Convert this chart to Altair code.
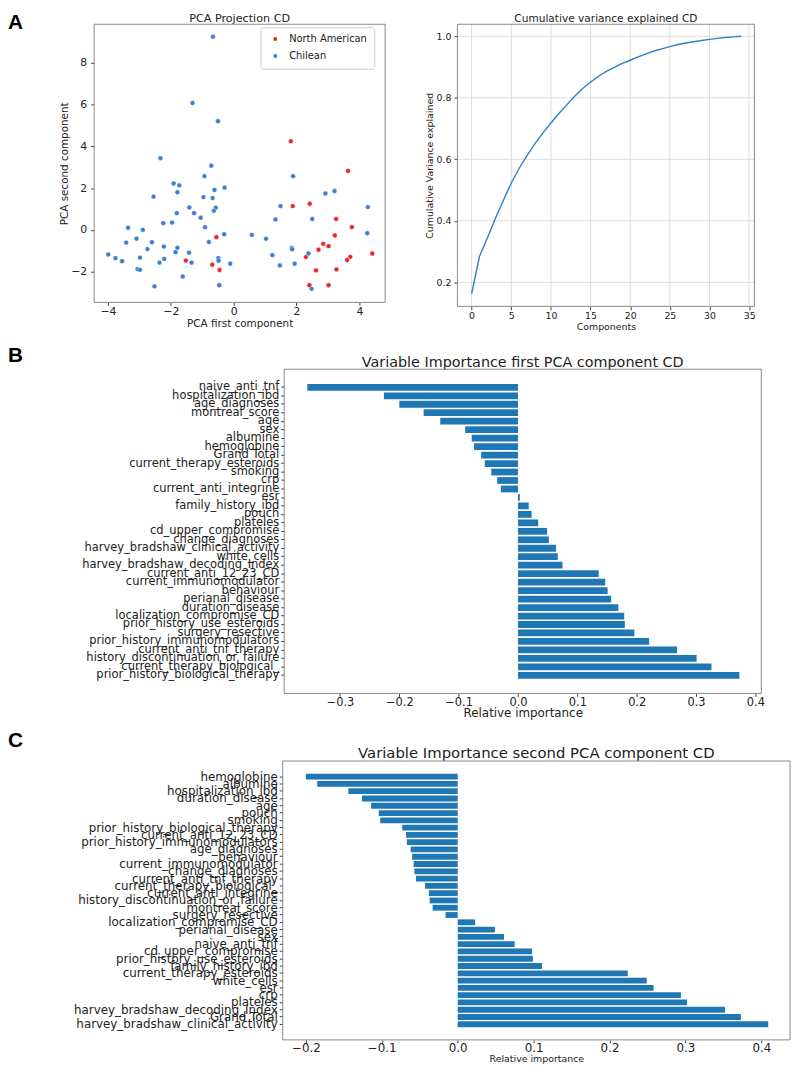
import altair as alt
import pandas as pd

FONT = "DejaVu Sans"

# ---------------- data ----------------
na_x = [1.82, 3.64, 1.88, 2.42, 3.26, 3.76, 3.22, 2.85, 3.02, 2.70, 2.30, 3.71, 3.61, 4.41,
        2.62, 3.27, 2.41, 3.02, -0.55, -1.52, -0.68, -0.45]
na_y = [4.24, 2.82, 1.14, 1.25, 0.52, 0.13, -0.27, -0.67, -0.78, -0.95, -1.30, -1.29, -1.44, -1.13,
        -1.94, -1.89, -2.65, -2.65, -0.35, -1.47, -1.67, -1.92]
ch_x = [-0.66, -1.31, -0.50, -2.33, -0.71, -0.93, 1.89, -1.91, -1.73, -0.29, -0.61, -1.79, -2.55,
        -0.96, -0.67, 3.21, 2.92, -1.41, -0.57, 1.49, 4.27, -0.63, -1.26, -1.81, -1.05, 1.33, 2.50,
        -2.24, -1.96, -3.36, -0.91, -2.89, -0.30, 0.58, 4.25, -3.42, -3.09, -2.60, -0.79, 1.03,
        -2.22, -1.79, -2.74, 1.85, 1.86, -1.85, -1.42, 1.23, 2.38, -3.99, -3.76, -3.55, -2.98,
        -2.21, -2.36, -1.34, -0.49, -0.48, -0.11, 1.47, 1.94, -3.06, -2.98, -1.62, -2.52, -0.46, 2.48]
ch_y = [9.24, 6.07, 5.20, 3.43, 3.07, 2.57, 2.57, 2.22, 2.13, 2.02, 1.91, 1.80, 1.59, 1.57, 1.52,
        1.86, 1.74, 1.07, 1.06, 1.14, 1.09, 0.91, 0.80, 0.80, 0.58, 0.50, 0.52, 0.32, 0.35, 0.10,
        0.13, 0.00, -0.21, -0.24, -0.16, -0.61, -0.42, -0.59, -0.58, -0.43, -0.80, -0.86, -0.92,
        -0.86, -0.93, -1.07, -1.09, -1.21, -1.13, -1.18, -1.35, -1.50, -1.33, -1.39, -1.57, -1.57,
        -1.35, -1.48, -1.62, -1.70, -1.62, -1.88, -1.91, -2.23, -2.70, -2.65, -2.82]
groups = ["North American", "Chilean"]

components = list(range(35))
cum_var = [0.163, 0.285, 0.345, 0.408, 0.466, 0.523, 0.571, 0.613, 0.651, 0.686, 0.718, 0.749,
           0.777, 0.805, 0.830, 0.851, 0.870, 0.886, 0.899, 0.912, 0.922, 0.933, 0.943, 0.952,
           0.959, 0.966, 0.973, 0.978, 0.982, 0.986, 0.990, 0.993, 0.996, 0.998, 1.000]

b_labels = ["naive_anti_tnf", "hospitalization_ibd", "age_diagnoses", "montreal_score", "age", "sex",
            "albumine", "hemoglobine", "Grand Total ", "current_therapy_esteroids", "smoking ", "crp",
            "current_anti_integrine", "esr", "family_history_ibd", "pouch", "plateles",
            "cd_upper_compromise", "change_diagnoses", "harvey_bradshaw_clinical_activity",
            "white_cells", "harvey_bradshaw_decoding_Index", "current_anti_12_23_CD",
            "current_immunomodulator", "behaviour", "perianal_disease", "duration_disease",
            "localization_compromise_CD", "prior_history_use_esteroids", "surgery_resective",
            "prior_history_immunomodulators", "current_anti_tnf_therapy",
            "history_discontinuation_or_failure", "current_therapy_biological_",
            "prior_history_biological_therapy"]
b_values = [-0.355, -0.226, -0.200, -0.159, -0.131, -0.089, -0.078, -0.074, -0.062, -0.056, -0.045,
            -0.035, -0.029, 0.003, 0.018, 0.023, 0.034, 0.049, 0.052, 0.064, 0.067, 0.075, 0.136,
            0.147, 0.151, 0.157, 0.169, 0.179, 0.180, 0.196, 0.221, 0.268, 0.301, 0.326, 0.373]

c_labels = ["hemoglobine", "albumine", "hospitalization_ibd", "duration_disease", "age", "pouch",
            "smoking ", "prior_history_biological_therapy", "current_anti_12_23_CD",
            "prior_history_immunomodulators", "age_diagnoses", "behaviour", "current_immunomodulator",
            "change_diagnoses", "current_anti_tnf_therapy", "current_therapy_biological_",
            "current_anti_integrine", "history_discontinuation_or_failure", "montreal_score",
            "surgery_resective", "localization_compromise_CD", "perianal_disease", "sex",
            "naive_anti_tnf", "cd_upper_compromise", "prior_history_use_esteroids",
            "family_history_ibd", "current_therapy_esteroids", "white_cells", "esr", "crp",
            "plateles", "harvey_bradshaw_decoding_Index", "Grand Total ",
            "harvey_bradshaw_clinical_activity"]
c_values = [-0.200, -0.185, -0.144, -0.126, -0.114, -0.104, -0.102, -0.073, -0.068, -0.067, -0.062,
            -0.060, -0.058, -0.057, -0.055, -0.043, -0.038, -0.037, -0.033, -0.016, 0.023, 0.049,
            0.061, 0.075, 0.098, 0.099, 0.111, 0.224, 0.249, 0.258, 0.294, 0.302, 0.352, 0.373, 0.409]

sc_xticks = [-4, -2, 0, 2, 4]
sc_yticks = [-2, 0, 2, 4, 6, 8]
cv_xticks = [0, 5, 10, 15, 20, 25, 30, 35]
cv_yticks = [0.2, 0.4, 0.6, 0.8, 1.0]
b_xticks = [-0.3, -0.2, -0.1, 0.0, 0.1, 0.2, 0.3, 0.4]
c_xticks = [-0.2, -0.1, 0.0, 0.1, 0.2, 0.3, 0.4]

# ---------------- canvas layout (pixels) ----------------
W, H = 792, 1060
SC = dict(l=87, r=381, t=11, b=292)
CV = dict(l=454, r=754, t=11, b=296)
BB = dict(l=279, r=761, t=359.5, b=687)
CC = dict(l=277.5, r=790, t=755.3, b=1037)
TXT = "#222222"
FRAME = "#888888"


def xaxis(panel, **kw):
    base = dict(orient="bottom", offset=panel["b"] - H, domain=False, labelFont=FONT,
                titleFont=FONT, labelColor=TXT, titleColor=TXT, titleFontWeight="normal",
                tickColor="#444444", tickSize=3.5, grid=False)
    base.update(kw)
    return alt.Axis(**base)


def yaxis(panel, **kw):
    base = dict(orient="left", offset=-panel["l"], domain=False, labelFont=FONT,
                titleFont=FONT, labelColor=TXT, titleColor=TXT, titleFontWeight="normal",
                tickColor="#444444", tickSize=3.5, grid=False)
    base.update(kw)
    return alt.Axis(**base)


def text_at(s, x, y, size, weight="normal", font=FONT, align="center"):
    return alt.Chart(pd.DataFrame({"t": [s]})).mark_text(
        font=font, fontSize=size, fontWeight=weight, align=align, baseline="alphabetic",
        color="#000000" if weight == "bold" else TXT
    ).encode(text="t:N", x=alt.value(x), y=alt.value(y))


def frame(p):
    return alt.Chart(pd.DataFrame({"t": [0]})).mark_rect(
        fillOpacity=0, stroke=FRAME, strokeWidth=1
    ).encode(x=alt.value(p["l"]), x2=alt.value(p["r"]), y=alt.value(p["t"]), y2=alt.value(p["b"]))


# ---------------- panel A: scatter ----------------
df_sc = pd.DataFrame({
    "x": na_x + ch_x,
    "y": na_y + ch_y,
    "group": [groups[0]] * len(na_x) + [groups[1]] * len(ch_x),
})
scatter = alt.Chart(df_sc).mark_circle(size=24, opacity=1, stroke="white", strokeWidth=0.4).encode(
    x=alt.X("x:Q", scale=alt.Scale(domain=[-4.44, 4.82], nice=False, zero=False,
                                   range=[SC["l"], SC["r"]]),
            axis=xaxis(SC, values=sc_xticks, title="PCA first component", labelFontSize=11,
                       titleFontSize=10.5, tickSize=3, labelPadding=0, titlePadding=2)),
    y=alt.Y("y:Q", scale=alt.Scale(domain=[-3.47, 9.84], nice=False, zero=False,
                                   range=[SC["b"], SC["t"]]),
            axis=yaxis(SC, values=sc_yticks, title="PCA second component", labelFontSize=11,
                       titleFontSize=10.5, labelPadding=4, titlePadding=1)),
    color=alt.Color("group:N", scale=alt.Scale(domain=groups, range=["#e8262b", "#3a7fd0"]),
                    legend=alt.Legend(title=None, orient="none", legendX=255, legendY=14,
                                      padding=7, strokeColor="#cccccc", fillColor="white",
                                      cornerRadius=3, labelFont=FONT, labelFontSize=10,
                                      labelColor=TXT, symbolType="circle", symbolSize=30,
                                      symbolOffset=3, rowPadding=5, labelOffset=9)),
)

# ---------------- panel A: cumulative variance ----------------
cv_xscale = alt.Scale(domain=[-1.79, 35.66], nice=False, zero=False, range=[CV["l"], CV["r"]])
cv_yscale = alt.Scale(domain=[0.122, 1.039], nice=False, zero=False, range=[CV["b"], CV["t"]])
cv_xaxis = xaxis(CV, values=cv_xticks, title="Components", labelFontSize=9.5, titleFontSize=9.5,
                 labelPadding=1, titlePadding=1)
cv_yaxis = yaxis(CV, values=cv_yticks, format=".1f", title="Cumulative Variance explained",
                 labelFontSize=9.5, titleFontSize=9.5, labelPadding=3, titlePadding=2)
grid_x = alt.Chart(pd.DataFrame({"c": cv_xticks})).mark_rule(color="#dddddd", strokeWidth=1).encode(
    x=alt.X("c:Q", scale=cv_xscale, axis=cv_xaxis), y=alt.value(CV["t"]), y2=alt.value(CV["b"]))
grid_y = alt.Chart(pd.DataFrame({"v": cv_yticks})).mark_rule(color="#dddddd", strokeWidth=1).encode(
    y=alt.Y("v:Q", scale=cv_yscale, axis=cv_yaxis), x=alt.value(CV["l"]), x2=alt.value(CV["r"]))
cv_line = alt.Chart(pd.DataFrame({"c": components, "v": cum_var})).mark_line(
    color="#2f80c8", strokeWidth=1.4
).encode(
    x=alt.X("c:Q", scale=cv_xscale, axis=cv_xaxis),
    y=alt.Y("v:Q", scale=cv_yscale, axis=cv_yaxis),
)
cumulative = alt.layer(grid_x, grid_y, cv_line)

# ---------------- panel B ----------------
bars_b = alt.Chart(pd.DataFrame({"f": b_labels, "v": b_values})).mark_bar(color="#1f77b4").encode(
    y=alt.Y("f:N", sort=b_labels,
            scale=alt.Scale(paddingInner=0.2, paddingOuter=1, range=[BB["t"] + 6.3, BB["b"] - 6.3]),
            axis=yaxis(BB, title=None, labelFontSize=11.6, labelPadding=2, labelLimit=400,
                       labelOverlap=False)),
    x=alt.X("v:Q", scale=alt.Scale(domain=[-0.394, 0.41], nice=False, zero=False,
                                   range=[BB["l"], BB["r"]]),
            axis=xaxis(BB, values=b_xticks, format=".1f", title="Relative importance",
                       labelFontSize=11.5, titleFontSize=12, tickSize=3, labelPadding=0,
                       titlePadding=0)),
    x2=alt.datum(0),
)

# ---------------- panel C ----------------
bars_c = alt.Chart(pd.DataFrame({"f": c_labels, "v": c_values})).mark_bar(color="#1f77b4").encode(
    y=alt.Y("f:N", sort=c_labels,
            scale=alt.Scale(paddingInner=0.2, paddingOuter=1, range=[CC["t"] + 5.45, CC["b"] - 5.45]),
            axis=yaxis(CC, title=None, labelFontSize=12, labelPadding=2, labelLimit=400,
                       labelOverlap=False)),
    x=alt.X("v:Q", scale=alt.Scale(domain=[-0.2305, 0.4377], nice=False, zero=False,
                                   range=[CC["l"], CC["r"]]),
            axis=xaxis(CC, values=c_xticks, format=".1f", title="Relative importance",
                       labelFontSize=12, titleFontSize=9.5, tickSize=3, labelPadding=0,
                       titlePadding=0)),
    x2=alt.datum(0),
)

# ---------------- titles, letters, frames ----------------
decor = [
    text_at("PCA Projection CD", (SC["l"] + SC["r"]) / 2, 9, 11.3),
    text_at("Cumulative variance explained CD", (CV["l"] + CV["r"]) / 2, 9, 10.7),
    text_at("Variable Importance first PCA component CD", (BB["l"] + BB["r"]) / 2, 357.5, 14.5),
    text_at("Variable Importance second PCA component CD", (CC["l"] + CC["r"]) / 2, 752.5, 15),
    text_at("A", 0, 16, 21, weight="bold", font="Liberation Sans", align="left"),
    text_at("B", 0, 352, 21, weight="bold", font="Liberation Sans", align="left"),
    text_at("C", 0, 741, 21, weight="bold", font="Liberation Sans", align="left"),
    frame(SC), frame(CV), frame(BB), frame(CC),
]

chart = alt.layer(scatter, cumulative, bars_b, bars_c, *decor).resolve_scale(
    x="independent", y="independent"
).resolve_axis(
    x="independent", y="independent"
).properties(
    width=W, height=H, padding=0, background="white",
    autosize=alt.AutoSizeParams(type="none"),
).configure_view(stroke="transparent")

chart.save("out.html", embed_options={"renderer": "svg", "actions": False})
